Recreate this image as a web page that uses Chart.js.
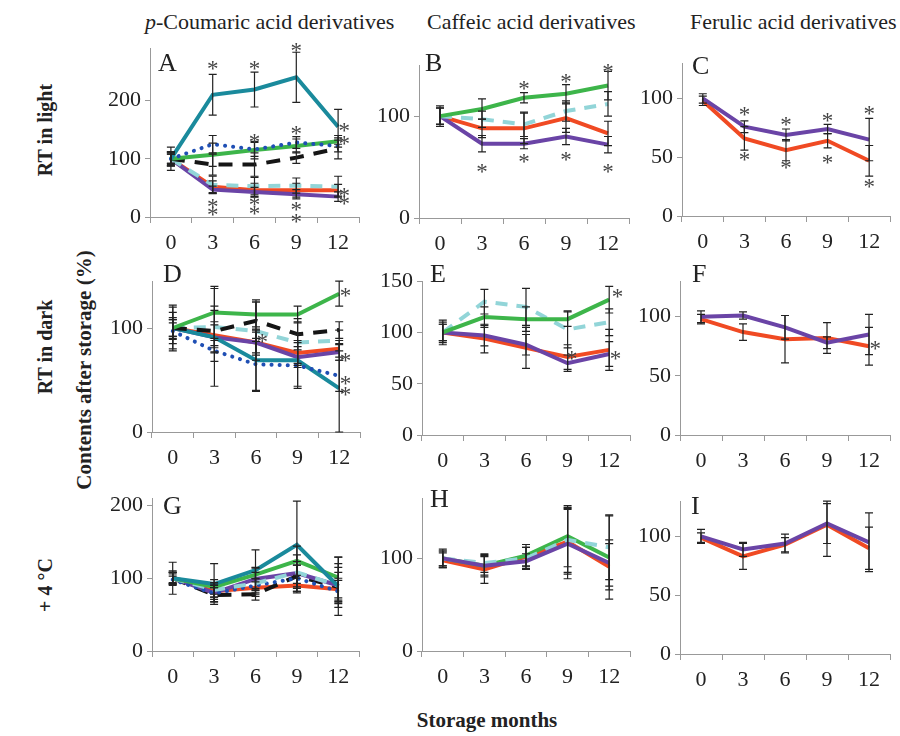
<!DOCTYPE html>
<html lang="en">
<head>
<meta charset="UTF-8" />
<title>Contents after storage</title>
<script src="https://cdn.jsdelivr.net/npm/chart.js"></script>
<style>
  body { margin: 0; width: 900px; height: 736px; background: #fff; position: relative; overflow: hidden;
         font-family: "Liberation Serif", serif; color: #222; }
  .box { position: absolute; }
  .txt { position: absolute; white-space: nowrap; line-height: 1; }
  .rot { position: absolute; white-space: nowrap; line-height: 1; font-weight: bold;
         transform: translate(-50%, -50%) rotate(-90deg); }
</style>
<script>
  const months = ["0", "3", "6", "9", "12"];

  // A: p-coumaric, RT in light
  const A_teal = [100, 210, 219, 240, 155];   const A_teal_err = [20, 35, 30, 43, 30];
  const A_blue = [100, 125, 116, 128, 122];   const A_blue_err = [12, 15, 12, 10, 10];
  const A_green = [100, 107, 115, 122, 130];  const A_green_err = [12, 20, 15, 12, 10];
  const A_black = [100, 90, 90, 102, 118];    const A_black_err = [12, 18, 20, 10, 18];
  const A_cyan = [100, 55, 53, 54, 52];       const A_cyan_err = [10, 15, 15, 13, 18];
  const A_purple = [100, 47, 43, 39, 35];     const A_purple_err = [8, 6, 8, 8, 8];
  const A_red = [100, 52, 46, 46, 46];        const A_red_err = [8, 10, 12, 12, 10];
  const A_stars = [[1, 262], [1, 25], [1, 12], [2, 262], [2, 137], [2, 30], [2, 14],
                   [3, 293], [3, 152], [3, 20], [3, 0], [4.15, 157], [4.15, 134], [4.15, 45], [4.15, 31]];

  // B: caffeic, RT in light
  const B_green = [100, 107, 118, 122, 130];  const B_green_err = [8, 10, 5, 9, 14];
  const B_cyan = [100, 97, 92, 105, 112];     const B_cyan_err = [8, 8, 12, 10, 12];
  const B_purple = [100, 73, 73, 80, 72];     const B_purple_err = [8, 8, 5, 8, 8];
  const B_red = [100, 88, 88, 98, 83];        const B_red_err = [10, 9, 15, 14, 12];
  const B_stars = [[1, 50], [2, 132], [2, 60], [3, 138], [3, 62], [4, 148], [4, 50]];

  // C: ferulic, RT in light
  const C_purple = [100, 76, 69, 74, 65];     const C_purple_err = [4, 5, 5, 4, 18];
  const C_red = [98, 66, 56, 64, 47];         const C_red_err = [4, 10, 9, 6, 13];
  const C_stars = [[1, 90], [1, 52], [2, 82], [2, 45], [3, 85], [3, 49], [4, 91], [4, 29]];

  // D: p-coumaric, RT in dark
  const D_green = [100, 115, 113, 113, 133];  const D_green_err = [20, 25, 12, 8, 12];
  const D_blue = [97, 78, 65, 64, 54];        const D_blue_err = [8, 10, 25, 22, 15];
  const D_black = [100, 97, 107, 94, 98];     const D_black_err = [15, 20, 20, 15, 8];
  const D_cyan = [100, 101, 97, 86, 88];      const D_cyan_err = [10, 20, 28, 20, 10];
  const D_teal = [100, 91, 69, 69, 42];       const D_teal_err = [22, 47, 30, 25, 42];
  const D_purple = [100, 91, 86, 72, 77];     const D_purple_err = [8, 15, 10, 10, 8];
  const D_red = [100, 93, 86, 76, 80];        const D_red_err = [8, 10, 12, 12, 8];
  const D_stars = [[4.15, 136], [2.15, 91], [4.15, 73], [4.15, 51], [4.15, 40]];

  // E: caffeic, RT in dark
  const E_green = [100, 115, 113, 113, 132];  const E_green_err = [10, 10, 12, 7, 13];
  const E_cyan = [100, 130, 125, 103, 110];   const E_cyan_err = [12, 12, 18, 18, 13];
  const E_purple = [100, 97, 88, 70, 79];     const E_purple_err = [8, 10, 10, 8, 12];
  const E_red = [100, 94, 85, 76, 83];        const E_red_err = [8, 14, 20, 12, 20];
  const E_stars = [[4.2, 139], [3.1, 79], [4.15, 79]];

  // F: ferulic, RT in dark
  const F_purple = [100, 101, 91, 78, 85];    const F_purple_err = [5, 3, 10, 5, 17];
  const F_red = [98, 87, 81, 82, 75];         const F_red_err = [4, 7, 20, 13, 16];
  const F_stars = [[4.15, 77]];

  // G: p-coumaric, +4 °C
  const G_teal = [100, 92, 111, 146, 89];     const G_teal_err = [22, 28, 28, 60, 40];
  const G_green = [100, 88, 105, 124, 101];   const G_green_err = [10, 10, 10, 20, 28];
  const G_cyan = [100, 84, 93, 108, 90];      const G_cyan_err = [8, 10, 15, 15, 25];
  const G_blue = [98, 79, 90, 100, 82];       const G_blue_err = [5, 8, 10, 18, 15];
  const G_purple = [100, 80, 99, 107, 90];    const G_purple_err = [8, 12, 15, 25, 30];
  const G_black = [100, 77, 78, 103, 88];     const G_black_err = [8, 10, 8, 15, 20];
  const G_red = [100, 82, 87, 90, 85];        const G_red_err = [6, 8, 12, 10, 15];

  // H: caffeic, +4 °C
  const H_green = [100, 92, 103, 124, 101];   const H_green_err = [10, 12, 12, 33, 45];
  const H_cyan = [100, 95, 100, 120, 112];    const H_cyan_err = [8, 10, 12, 35, 35];
  const H_purple = [100, 92, 97, 116, 95];    const H_purple_err = [8, 10, 8, 38, 25];
  const H_red = [98, 88, 102, 118, 91];       const H_red_err = [8, 15, 10, 35, 25];

  // I: ferulic, +4 °C
  const I_purple = [100, 89, 94, 111, 95];    const I_purple_err = [6, 6, 8, 17, 25];
  const I_red = [99, 83, 93, 110, 90];        const I_red_err = [4, 11, 6, 27, 18];

  const STYLE = {
    teal:   { color: "#1a8a9c", dash: [] },
    green:  { color: "#3db54a", dash: [] },
    blue:   { color: "#1f4fb4", dash: [0.1, 8], cap: "round" },
    black:  { color: "#151515", dash: [14, 10] },
    cyan:   { color: "#92d5d8", dash: [12, 9] },
    purple: { color: "#6a44a6", dash: [] },
    red:    { color: "#f04a23", dash: [] },
  };

  // axisX, plotTop, plotRight, axisY  (pixel frame of each panel)
  const PANELS = [
    { el: "pA", frame: [150, 45, 359, 217], max: 290, step: 100,
      series: [["teal", A_teal, A_teal_err], ["blue", A_blue, A_blue_err], ["green", A_green, A_green_err],
               ["black", A_black, A_black_err], ["cyan", A_cyan, A_cyan_err], ["purple", A_purple, A_purple_err],
               ["red", A_red, A_red_err]], stars: A_stars },
    { el: "pB", frame: [419, 62, 629, 218], max: 150, step: 100,
      series: [["green", B_green, B_green_err], ["cyan", B_cyan, B_cyan_err], ["purple", B_purple, B_purple_err],
               ["red", B_red, B_red_err]], stars: B_stars },
    { el: "pC", frame: [682, 60, 890, 216], max: 130, step: 50,
      series: [["purple", C_purple, C_purple_err], ["red", C_red, C_red_err]], stars: C_stars },
    { el: "pD", frame: [152, 278, 360, 432], max: 145, step: 100,
      series: [["green", D_green, D_green_err], ["blue", D_blue, D_blue_err], ["black", D_black, D_black_err],
               ["cyan", D_cyan, D_cyan_err], ["teal", D_teal, D_teal_err], ["purple", D_purple, D_purple_err],
               ["red", D_red, D_red_err]], stars: D_stars },
    { el: "pE", frame: [422, 278, 630, 435], max: 150, step: 50,
      series: [["green", E_green, E_green_err], ["cyan", E_cyan, E_cyan_err], ["purple", E_purple, E_purple_err],
               ["red", E_red, E_red_err]], stars: E_stars },
    { el: "pF", frame: [680, 278, 890, 435], max: 130, step: 50,
      series: [["purple", F_purple, F_purple_err], ["red", F_red, F_red_err]], stars: F_stars },
    { el: "pG", frame: [152, 495, 359, 651], max: 210, step: 100,
      series: [["teal", G_teal, G_teal_err], ["green", G_green, G_green_err], ["cyan", G_cyan, G_cyan_err],
               ["blue", G_blue, G_blue_err], ["purple", G_purple, G_purple_err], ["black", G_black, G_black_err],
               ["red", G_red, G_red_err]], stars: [] },
    { el: "pH", frame: [422, 495, 630, 651], max: 165, step: 100,
      series: [["purple", H_purple, H_purple_err], ["cyan", H_cyan, H_cyan_err], ["green", H_green, H_green_err],
               ["red", H_red, H_red_err]], stars: [] },
    { el: "pI", frame: [680, 498, 890, 654], max: 130, step: 50,
      series: [["purple", I_purple, I_purple_err], ["red", I_red, I_red_err]], stars: [] },
  ];

  const PAD_L = 55, PAD_T = 14, PAD_R = 10, PAD_B = 44;
  const FONT = "'Liberation Serif', serif";

  const errorBars = {
    id: "errorBars",
    afterDatasetsDraw(chart) {
      const ctx = chart.ctx, xs = chart.scales.x, ys = chart.scales.y;
      ctx.save();
      ctx.strokeStyle = "#222";
      ctx.lineWidth = 1.2;
      chart.data.datasets.forEach((ds) => {
        ds.data.forEach((v, i) => {
          const e = ds.errors[i];
          const px = xs.getPixelForValue(i);
          const t = ys.getPixelForValue(Math.min(v + e, ys.max));
          const b = ys.getPixelForValue(Math.max(v - e, 0));
          ctx.beginPath();
          ctx.moveTo(px, t); ctx.lineTo(px, b);
          ctx.moveTo(px - 4, t); ctx.lineTo(px + 4, t);
          ctx.moveTo(px - 4, b); ctx.lineTo(px + 4, b);
          ctx.stroke();
        });
      });
      ctx.restore();
    },
  };

  const stars = {
    id: "stars",
    afterDraw(chart, args, opts) {
      const ctx = chart.ctx, xs = chart.scales.x, ys = chart.scales.y;
      ctx.save();
      ctx.fillStyle = "#444";
      ctx.font = "23px " + FONT;
      ctx.textAlign = "center";
      ctx.textBaseline = "alphabetic";
      (opts.points || []).forEach(([i, v]) => {
        ctx.fillText("*", xs.getPixelForValue(i), ys.getPixelForValue(v) + 12);
      });
      ctx.restore();
    },
  };

  function drawPanel(p) {
    const [ax, top, right, ay] = p.frame;
    const box = document.getElementById(p.el);
    box.style.left = ax - PAD_L + "px";
    box.style.top = top - PAD_T + "px";
    box.style.width = right - ax + PAD_L + PAD_R + "px";
    box.style.height = ay - top + PAD_T + PAD_B + "px";
    const canvas = box.querySelector("canvas");

    const datasets = p.series.map(([key, data, errors]) => ({
      data: data,
      errors: errors,
      borderColor: STYLE[key].color,
      borderDash: STYLE[key].dash,
      borderCapStyle: STYLE[key].cap || "butt",
      borderWidth: 4,
      pointRadius: 0,
      tension: 0,
      clip: false,
    }));

    new Chart(canvas, {
      type: "line",
      data: { labels: months, datasets: datasets },
      options: {
        responsive: true,
        maintainAspectRatio: false,
        animation: false,
        events: [],
        layout: { padding: { top: PAD_T, right: PAD_R, left: 0, bottom: 0 } },
        plugins: { legend: { display: false }, tooltip: { enabled: false }, stars: { points: p.stars } },
        scales: {
          x: {
            offset: true,
            grid: { offset: true, drawOnChartArea: false, drawTicks: true, tickLength: 6, color: "#999" },
            border: { color: "#999" },
            ticks: { color: "#222", padding: 7, maxRotation: 0, font: { family: FONT, size: 22 } },
            afterFit: (s) => { s.height = PAD_B; },
          },
          y: {
            min: 0,
            max: p.max,
            grid: { drawOnChartArea: false, drawTicks: true, tickLength: 5, color: "#999" },
            border: { color: "#999" },
            ticks: { color: "#222", padding: 4, font: { family: FONT, size: 22 } },
            afterBuildTicks: (s) => {
              const t = [];
              for (let v = 0; v <= p.max; v += p.step) t.push({ value: v });
              s.ticks = t;
            },
            afterFit: (s) => { s.width = PAD_L; },
          },
        },
      },
      plugins: [errorBars, stars],
    });
  }

  document.addEventListener("DOMContentLoaded", function () {
    PANELS.forEach(drawPanel);
  });
</script>
</head>
<body>
  <div class="txt" style="left:145px; top:11px; font-size:22px;"><i>p</i>-Coumaric acid derivatives</div>
  <div class="txt" style="left:427px; top:11px; font-size:22px;">Caffeic acid derivatives</div>
  <div class="txt" style="left:690px; top:11px; font-size:22px;">Ferulic acid derivatives</div>

  <div class="rot" style="left:45px; top:130px; font-size:20px;">RT in light</div>
  <div class="rot" style="left:45px; top:347px; font-size:20px;">RT in dark</div>
  <div class="rot" style="left:45px; top:585px; font-size:20px;">+ 4 °C</div>
  <div class="rot" style="left:84px; top:370px; font-size:21px;">Contents after storage (%)</div>
  <div class="txt" style="left:487px; top:710px; font-size:21px; font-weight:bold; transform:translateX(-50%);">Storage months</div>

  <div class="box" id="pA"><canvas></canvas></div>
  <div class="box" id="pB"><canvas></canvas></div>
  <div class="box" id="pC"><canvas></canvas></div>
  <div class="box" id="pD"><canvas></canvas></div>
  <div class="box" id="pE"><canvas></canvas></div>
  <div class="box" id="pF"><canvas></canvas></div>
  <div class="box" id="pG"><canvas></canvas></div>
  <div class="box" id="pH"><canvas></canvas></div>
  <div class="box" id="pI"><canvas></canvas></div>

  <div class="txt" style="left:158px; top:50px; font-size:26px;">A</div>
  <div class="txt" style="left:425px; top:50px; font-size:26px;">B</div>
  <div class="txt" style="left:692px; top:53px; font-size:26px;">C</div>
  <div class="txt" style="left:163px; top:261px; font-size:26px;">D</div>
  <div class="txt" style="left:430px; top:261px; font-size:26px;">E</div>
  <div class="txt" style="left:692px; top:261px; font-size:26px;">F</div>
  <div class="txt" style="left:163px; top:493px; font-size:26px;">G</div>
  <div class="txt" style="left:430px; top:486px; font-size:26px;">H</div>
  <div class="txt" style="left:691px; top:493px; font-size:26px;">I</div>
</body>
</html>
